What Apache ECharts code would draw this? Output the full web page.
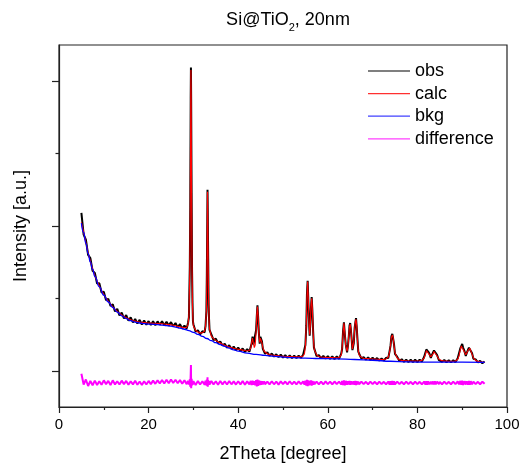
<!DOCTYPE html>
<html>
<head>
<meta charset="utf-8">
<title>Si@TiO2, 20nm</title>
<script src="https://cdn.jsdelivr.net/npm/echarts@6/dist/echarts.min.js"></script>
<style>
  body { margin: 0; background: #fff; }
  #main { width: 520px; height: 465px; }
</style>
</head>
<body>
<div id="main"></div>
<script>
// 2Theta grid (degree), denser around the reflections
var twoTheta = [
  5,5.5,6,6.5,7,7.5,8,8.5,9,9.5, 10,10.5,11,11.5,12,12.5,13,13.5,14,14.5,
  15,15.5,16,16.5,17,17.5,18,18.5,19,19.5, 20,20.5,21,21.5,22,22.5,23,23.5,24,24.5,
  25,25.5,26,26.5,27,27.5,28,28.5,
  28.8,29.0,29.2,29.3,29.4,29.45,29.5,29.6,29.7,29.8,29.9,30.0,30.5,31.0,31.5,32.0,32.5,32.7,32.9,33.0,33.1,33.15,33.2,33.3,33.4,33.5,33.6,34.0,
  34.5,35,35.5,36,36.5,37,37.5,38,38.5,39,39.5,40,40.5,41,41.5,42,42.5,
  42.8,43.0,43.2,43.4,43.6,43.8,44.0,44.15,44.3,44.45,44.6,44.8,44.95,45.1,45.3,45.5,45.8,46.0,
  46.5,47,47.5,48,48.5,49,49.5,50,50.5,51,51.5,52,52.5,53,53.5,54,54.5,
  54.8,55.0,55.2,55.35,55.5,55.65,55.8,55.95,56.1,56.25,56.4,56.55,56.7,56.9,57.0,
  57.5,58,58.5,59,59.5,60,60.5,61,61.5,62,62.5,
  63.0,63.2,63.4,63.6,63.8,64.0,64.3,64.5,64.7,64.85,65.0,65.15,65.3,65.5,65.6,65.8,66.0,66.15,66.3,66.45,66.6,66.8,67.0,
  67.5,68,68.5,69,69.5,70,70.5,71,71.5,72,72.5,73,73.5,
  73.8,74.0,74.2,74.4,74.6,74.8,75.0,
  75.5,76,76.5,77,77.5,78,78.5,79,79.5,80,80.5,81,81.5,
  81.8,82.0,82.2,82.4,82.7,83.0,83.2,83.5,83.7,83.9,84.1,84.4,84.8,85.0,
  85.5,86,86.5,87,87.5,88,88.5,89,
  89.3,89.6,89.8,90.0,90.2,90.5,90.8,91.0,91.3,91.5,91.7,91.9,92.2,92.5,
  93.0,93.5,94.0,94.5,95.0
];

var obs = [
  1090,940,905,800,778,690,675,603,604,540, 546,488,497,447,460,410,428,383,402,362,
  384,346,369,334,358,327,352,320,347,318, 343,316,342,315,341,318,342,314,338,312,
  336,308,330,300,322,292,312,292,
  330,370,720,1130,1880,2095,1870,1230,690,470,342,322,270,280,252,273,266,308,410,660,1030,1250,1110,780,455,352,282,252,
  212,222,190,203,174,187,160,176,151,167,142,160,137,154,131,149,132,
  166,188,236,182,170,172,282,378,452,372,270,188,234,229,204,152,144,118,
  128,103,119,98,114,95,111,91,108,89,107,88,105,87,105,89,111,
  113,178,310,532,622,490,342,243,330,440,510,420,290,162,152,
  101,108,86,103,84,101,82,100,81,99,83,
  118,152,270,335,252,184,128,174,242,312,330,282,228,143,153,192,298,332,364,302,228,133,118,
  84,95,77,92,75,90,73,88,71,86,71,90,88,
  138,172,238,255,218,178,117,
  96,68,80,62,77,60,76,60,76,60,77,64,95,
  108,147,156,133,117,89,107,111,140,146,123,109,73,82,
  62,75,59,73,58,73,60,87,
  98,157,166,186,161,137,103,122,133,160,162,138,122,83,
  79,57,69,52,64
];

var calc = [
  1025,958,885,815,755,705,657,620,585,555, 527,503,480,460,442,425,410,397,386,376,
  367,360,353,348,344,340,337,335,333,331, 330,329,328,328,327,326,325,323,321,319,
  317,314,311,307,304,300,298,300,
  320,380,700,1150,1850,2078,1900,1200,700,450,350,310,280,268,262,262,275,300,420,640,1050,1237,1130,760,470,340,290,240,
  222,210,200,192,183,176,170,165,160,156,152,149,146,143,140,138,140,
  158,195,225,190,160,180,270,390,443,380,260,195,225,237,195,160,135,126,
  118,112,109,107,105,103,101,100,99,98,98,97,96,96,96,97,102,
  120,170,320,520,616,500,330,250,320,450,501,430,280,170,145,
  110,99,95,94,93,92,91,91,90,90,91,
  110,160,260,329,260,175,135,165,250,305,322,290,220,150,145,200,290,340,356,310,220,140,110,
  92,87,85,84,83,82,81,80,79,78,79,82,95,
  130,180,230,248,225,170,125,
  88,76,72,70,69,68,68,68,68,68,69,72,88,
  115,140,150,140,110,96,100,118,133,140,130,102,80,75,
  70,68,67,66,66,66,68,80,
  105,150,172,179,168,130,110,115,140,153,156,145,115,90,
  72,65,62,60,57
];

var difference = [
  -20,-95,-60,-105,-70,-100,-68,-98,-72,-96, -66,-92,-70,-98,-66,-94,-72,-95,-68,-92,
  -70,-97,-72,-94,-68,-96,-74,-98,-72,-95, -70,-92,-68,-90,-66,-88,-64,-88,-62,-86,
  -60,-84,-62,-86,-64,-90,-66,-92,
  -70,-95,-60,-110,-20,40,-120,-55,-100,-70,-96,-72,-98,-70,-95,-72,-96,-68,-100,-60,-105,-45,-110,-65,-98,-72,-95,-70,
  -94,-72,-96,-70,-94,-72,-95,-71,-93,-73,-95,-72,-94,-71,-96,-73,-94,
  -70,-98,-68,-96,-72,-100,-64,-108,-60,-104,-66,-98,-70,-96,-72,-94,-73,-93,
  -74,-94,-72,-93,-74,-95,-73,-92,-74,-94,-72,-93,-74,-94,-73,-92,-74,
  -95,-68,-102,-62,-106,-66,-100,-70,-98,-66,-102,-70,-96,-73,-94,
  -74,-93,-75,-94,-73,-92,-75,-93,-74,-92,-75,
  -94,-70,-98,-66,-100,-70,-96,-72,-95,-70,-97,-72,-95,-73,-94,-72,-96,-70,-98,-72,-95,-74,-93,
  -75,-92,-76,-93,-75,-92,-76,-93,-75,-92,-76,-93,-74,
  -95,-72,-97,-70,-96,-73,-94,
  -75,-92,-76,-93,-75,-92,-76,-93,-75,-92,-76,-93,-74,
  -95,-72,-96,-73,-94,-75,-93,-74,-95,-72,-94,-75,-92,-76,
  -93,-75,-92,-76,-93,-75,-92,-74,
  -94,-70,-97,-68,-98,-72,-95,-73,-96,-70,-97,-72,-94,-75,
  -92,-76,-93,-75,-90
];

// background, coarser grid
var bkgTheta = [5,5.5,6,6.5,7,7.5,8,9,10,11,12,13,14,15,16,17,18,19,20,21,22,23,24,25,26,27,28,
  29,30,31,32,33,34,35,36,37,38,39,40,42,44,46,48,50,52,55,58,62,66,70,74,78,82,86,90,95];
var bkg = [1020,955,880,810,750,700,652,580,522,475,437,405,380,360,346,336,330,326,323,321,319,316,312,308,302,295,287,
  278,266,252,238,223,208,194,181,168,156,145,136,122,113,106,100,95,91,88,85,82,78,73,66,61,60,60,60,58];

var xTicks = [0, 20, 40, 60, 80, 100];

function pairs(xs, ys) {
  return xs.map(function (x, i) { return [x, ys[i]]; });
}

var font = '"Liberation Sans", Arial, sans-serif';
var axisColor = '#222';

var chart = echarts.init(document.getElementById('main'));
var option = {
  animation: false,
  title: {
    text: '{a|Si@TiO}{s|2}{a|, 20nm}',
    left: 283,
    textAlign: 'center',
    top: 2,
    textStyle: {
      rich: {
        a: { fontFamily: font, fontSize: 18, fontWeight: 'normal', lineHeight: 26, color: '#000' },
        s: { fontFamily: font, fontSize: 11, fontWeight: 'normal', lineHeight: 11, verticalAlign: 'bottom', color: '#000' }
      }
    }
  },
  legend: {
    orient: 'vertical',
    left: 363,
    top: 57,
    icon: 'rect',
    itemWidth: 42,
    itemHeight: 1.2,
    itemGap: 4.6,
    textStyle: { fontFamily: font, fontSize: 18, lineHeight: 18, color: '#000' },
    data: ['obs', 'calc', 'bkg', 'difference']
  },
  grid: {
    left: 59, right: 13, top: 45, bottom: 58,
    outerBoundsMode: 'none',
    show: true, borderColor: axisColor, borderWidth: 1.2
  },
  xAxis: {
    type: 'value',
    min: xTicks[0],
    max: xTicks[xTicks.length - 1],
    interval: 20,
    name: '2Theta [degree]',
    nameLocation: 'middle',
    nameGap: 38,
    nameTextStyle: { fontFamily: font, fontSize: 18, color: '#000' },
    axisLine: { onZero: false, lineStyle: { color: axisColor, width: 1.2 } },
    axisTick: { length: 6, lineStyle: { color: axisColor, width: 1.2 } },
    minorTick: { show: true, splitNumber: 2, length: 3, lineStyle: { color: axisColor, width: 1.2 } },
    splitLine: { show: false },
    minorSplitLine: { show: false },
    axisLabel: { fontFamily: font, fontSize: 15, color: '#000', margin: 10 }
  },
  yAxis: [{
    type: 'value',
    min: -250,
    max: 2250,
    name: 'Intensity [a.u.]',
    nameLocation: 'middle',
    nameGap: 29,
    nameTextStyle: { fontFamily: font, fontSize: 18, color: '#000' },
    axisLine: { show: true, onZero: false, lineStyle: { color: axisColor, width: 1.2 } },
    axisTick: { show: true, length: 7, customValues: [0, 1000, 2000], lineStyle: { color: axisColor, width: 1.2 } },
    axisLabel: { show: false },
    splitLine: { show: false }
  }, {
    type: 'value',
    position: 'left',
    min: -250,
    max: 2250,
    axisLine: { show: false, onZero: false },
    axisTick: { show: true, length: 3.5, customValues: [500, 1500], lineStyle: { color: axisColor, width: 1.2 } },
    axisLabel: { show: false },
    splitLine: { show: false }
  }],
  series: [
    { name: 'obs', type: 'line', data: pairs(twoTheta, obs), showSymbol: false, symbol: 'none',
      lineStyle: { color: '#000', width: 2 }, itemStyle: { color: '#000' } },
    { name: 'calc', type: 'line', data: pairs(twoTheta, calc), showSymbol: false, symbol: 'none',
      lineStyle: { color: '#ff0000', width: 1.1 }, itemStyle: { color: '#ff3030' } },
    { name: 'bkg', type: 'line', data: pairs(bkgTheta, bkg), showSymbol: false, symbol: 'none',
      smooth: true, smoothMonotone: 'x',
      lineStyle: { color: '#0000ff', width: 1.3 }, itemStyle: { color: '#4040ff' } },
    { name: 'difference', type: 'line', data: pairs(twoTheta, difference), showSymbol: false, symbol: 'none',
      lineStyle: { color: '#ff00ff', width: 2 }, itemStyle: { color: '#ff40ff' } }
  ]
};
chart.setOption(option);
</script>
</body>
</html>
